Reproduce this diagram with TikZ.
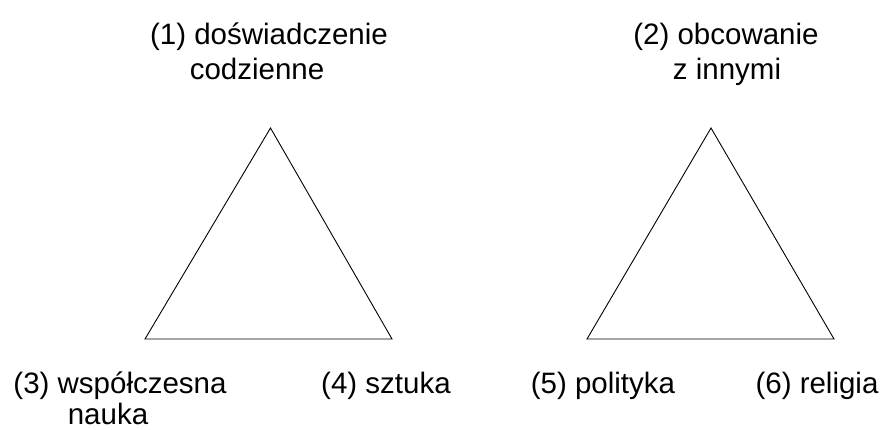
\documentclass[tikz,border=0pt]{standalone}
\usepackage{fontspec}
\setmainfont{Liberation Sans}
\begin{document}
\begin{tikzpicture}[x=1pt,y=-1pt,
  lbl/.style={anchor=base,inner sep=0pt,font=\fontsize{29.5}{35}\selectfont},
  tri/.style={draw=black,line width=0.9pt,line join=miter}]
\useasboundingbox (0,0) rectangle (886,429);
% triangle 1
\coordinate (a1) at (270.5,128);
\coordinate (b1) at (145,339);
\coordinate (c1) at (392,339);
\draw[tri] (a1) -- (b1) -- (c1) -- cycle;
% triangle 2
\coordinate (a2) at (711,128);
\coordinate (b2) at (587,339);
\coordinate (c2) at (834,339);
\draw[tri] (a2) -- (b2) -- (c2) -- cycle;
% labels
\node[lbl] (t1a) at (269,44) {(1) doświadczenie};
\node[lbl] (t1b) at (257,79) {codzienne};
\node[lbl] (t2a) at (726,44) {(2) obcowanie};
\node[lbl] (t2b) at (727,79) {z innymi};
\node[lbl] (t3a) at (120,393) {(3) współczesna};
\node[lbl] (t3b) at (108,424) {nauka};
\node[lbl] (t4) at (386,393) {(4) sztuka};
\node[lbl] (t5) at (603,393) {(5) polityka};
\node[lbl] (t6) at (817,393) {(6) religia};
\end{tikzpicture}
\end{document}
